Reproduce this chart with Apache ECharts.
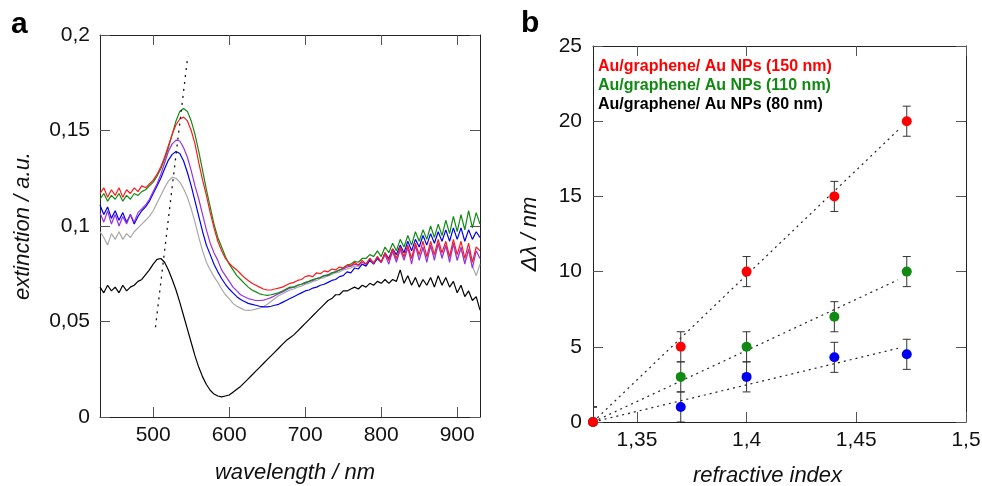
<!DOCTYPE html>
<html>
<head>
<meta charset="utf-8">
<script src="https://cdn.jsdelivr.net/npm/echarts@6/dist/echarts.min.js"></script>
<style>html,body{margin:0;padding:0;background:#fff}#c{width:982px;height:486px}</style>
</head>
<body>
<div id="c"></div>
<script>
// ---------- Panel a: extinction spectra ----------
const wavelength = [430,435,440,445,450,455,460,465,470,475,480,485,490,495,500,505,510,515,520,525,530,535,540,545,550,555,560,565,570,575,580,585,590,595,600,605,610,615,620,625,630,635,640,645,650,655,660,665,670,675,680,685,690,695,700,705,710,715,720,725,730,735,740,745,750,755,760,765,770,775,780,785,790,795,800,805,810,815,820,825,830,835,840,845,850,855,860,865,870,875,880,885,890,895,900,905,910,915,920,925,930];

const extRed = [0.117,0.120,0.115,0.119,0.116,0.120,0.115,0.119,0.117,0.120,
0.118,0.121,0.120,0.122,0.124,0.127,0.131,0.136,0.142,0.148,
0.153,0.156,0.157,0.155,0.150,0.143,0.133,0.124,0.116,0.107,
0.099,0.092,0.087,0.083,0.0805,0.0785,0.077,0.075,0.073,0.0715,
0.070,0.069,0.068,0.067,0.0665,0.0665,0.067,0.0675,0.068,0.069,
0.070,0.0705,0.0715,0.072,0.0735,0.074,0.0735,0.0755,0.075,0.0765,
0.076,0.0775,0.077,0.0785,0.078,0.0795,0.079,0.081,0.0795,0.082,
0.080,0.083,0.0805,0.084,0.081,0.086,0.082,0.088,0.083,0.089,
0.084,0.090,0.083,0.091,0.085,0.092,0.084,0.092,0.085,0.093,
0.086,0.092,0.084,0.093,0.085,0.092,0.083,0.091,0.081,0.089,
0.087];

const extGreen = [0.114,0.117,0.113,0.116,0.114,0.117,0.113,0.116,0.114,0.117,
0.116,0.118,0.119,0.121,0.123,0.126,0.130,0.135,0.141,0.148,
0.155,0.160,0.1615,0.160,0.155,0.148,0.139,0.129,0.119,0.110,
0.101,0.094,0.089,0.084,0.080,0.077,0.074,0.072,0.070,0.068,
0.0665,0.0655,0.0645,0.064,0.0637,0.064,0.0645,0.065,0.066,0.067,
0.068,0.068,0.069,0.0695,0.0705,0.071,0.072,0.0725,0.073,0.074,
0.074,0.0755,0.076,0.077,0.078,0.0795,0.080,0.0815,0.081,0.083,
0.083,0.085,0.084,0.087,0.084,0.089,0.086,0.091,0.087,0.093,
0.089,0.095,0.090,0.097,0.092,0.098,0.093,0.100,0.094,0.101,
0.095,0.103,0.096,0.105,0.097,0.106,0.098,0.108,0.099,0.107,
0.101];

const extPurple = [0.107,0.102,0.108,0.101,0.106,0.100,0.105,0.101,0.106,0.102,
0.107,0.109,0.111,0.114,0.118,0.122,0.127,0.133,0.139,0.143,
0.145,0.1445,0.141,0.136,0.129,0.121,0.114,0.106,0.098,0.091,
0.086,0.082,0.077,0.074,0.071,0.068,0.066,0.064,0.063,0.062,
0.0615,0.061,0.061,0.0612,0.0618,0.0625,0.0635,0.0645,0.0655,0.0665,
0.0675,0.068,0.069,0.0695,0.070,0.071,0.0715,0.0725,0.073,0.074,
0.0745,0.0755,0.076,0.077,0.0775,0.0785,0.079,0.080,0.0795,0.081,
0.080,0.083,0.0805,0.084,0.081,0.085,0.080,0.087,0.081,0.088,
0.082,0.089,0.080,0.090,0.082,0.089,0.081,0.090,0.082,0.091,
0.083,0.090,0.081,0.091,0.082,0.089,0.080,0.088,0.078,0.087,
0.083];

const extBlue = [0.111,0.106,0.110,0.104,0.108,0.103,0.107,0.102,0.106,0.101,
0.105,0.108,0.110,0.113,0.117,0.121,0.125,0.130,0.1345,0.1375,
0.139,0.138,0.134,0.128,0.121,0.113,0.105,0.097,0.090,0.085,
0.080,0.076,0.0725,0.0695,0.067,0.065,0.063,0.0615,0.0605,0.0595,
0.059,0.0585,0.058,0.0577,0.0577,0.058,0.0585,0.059,0.060,0.061,
0.062,0.063,0.064,0.065,0.066,0.0665,0.0675,0.068,0.069,0.0695,
0.0705,0.0715,0.072,0.0735,0.074,0.076,0.0755,0.078,0.0775,0.080,
0.079,0.082,0.080,0.083,0.081,0.086,0.083,0.088,0.085,0.090,
0.086,0.092,0.087,0.093,0.089,0.095,0.090,0.096,0.091,0.097,
0.092,0.098,0.092,0.099,0.093,0.099,0.092,0.098,0.093,0.097,
0.094];

const extGray = [0.097,0.094,0.090,0.096,0.093,0.097,0.093,0.096,0.094,0.097,
0.099,0.101,0.103,0.105,0.108,0.112,0.116,0.120,0.1235,0.1255,
0.125,0.123,0.1195,0.115,0.109,0.102,0.094,0.087,0.081,0.077,
0.0735,0.0705,0.067,0.064,0.062,0.0595,0.058,0.057,0.056,0.0558,
0.056,0.0565,0.057,0.0577,0.059,0.0605,0.062,0.0635,0.0645,0.0655,
0.0665,0.067,0.068,0.0685,0.0695,0.070,0.071,0.0715,0.0725,0.073,
0.074,0.0745,0.0755,0.076,0.077,0.0775,0.078,0.079,0.079,0.080,
0.080,0.082,0.081,0.083,0.081,0.085,0.082,0.086,0.082,0.087,
0.083,0.088,0.083,0.089,0.084,0.088,0.083,0.089,0.084,0.090,
0.084,0.089,0.083,0.090,0.082,0.088,0.081,0.087,0.079,0.074,
0.080];

const extBlack = [0.068,0.065,0.069,0.066,0.068,0.065,0.069,0.066,0.068,0.069,
0.071,0.072,0.0745,0.077,0.080,0.0825,0.083,0.081,0.077,0.072,
0.0665,0.060,0.053,0.046,0.039,0.032,0.026,0.021,0.017,0.014,
0.012,0.011,0.0105,0.011,0.0115,0.013,0.0145,0.016,0.018,0.020,
0.022,0.024,0.026,0.028,0.030,0.032,0.034,0.036,0.038,0.040,
0.0415,0.043,0.045,0.047,0.049,0.051,0.053,0.055,0.057,0.059,
0.061,0.062,0.064,0.064,0.066,0.066,0.067,0.068,0.067,0.069,
0.068,0.070,0.069,0.071,0.070,0.072,0.070,0.072,0.071,0.077,
0.070,0.074,0.069,0.073,0.068,0.072,0.069,0.073,0.068,0.074,
0.069,0.073,0.068,0.071,0.065,0.069,0.063,0.066,0.061,0.063,
0.056];

// dotted guide through the peak maxima
const guideX = [503, 545.5];
const guideY = [0.047, 0.189];

const aTicksX = [500, 600, 700, 800, 900];
const aTicksY = [0, 0.05, 0.1, 0.15, 0.2];

// ---------- Panel b: shift vs refractive index ----------
const refIndex = [1.33, 1.37, 1.40, 1.44, 1.473];
const shift150 = [0, 5, 10, 15, 20];
const err150 = [1, 1, 1, 1, 1];
const shift110 = [0, 3, 5, 7, 10];
const err110 = [1, 1, 1, 1, 1];
const shift80 = [0, 1, 3, 4.3, 4.5];
const err80 = [1, 1, 1, 1, 1];

const fitX = [1.33, 1.469];
const fit150 = [0, 19.4];
const fit110 = [0, 9.45];
const fit80 = [0, 4.9];

const bTicksX = [1.35, 1.4, 1.45, 1.5];
const bTicksY = [0, 5, 10, 15, 20, 25];

const labels = ['Au/graphene/ Au NPs (150 nm)', 'Au/graphene/ Au NPs (110 nm)', 'Au/graphene/ Au NPs (80 nm)'];

// ---------- build ----------
const FF = '"Liberation Sans", Arial, Helvetica, sans-serif';
const comma = v => String(+v.toFixed(4)).replace('.', ',');
const pts = arr => wavelength.map((w, i) => [w, arr[i]]);
const pair = (xs, ys) => xs.map((x, i) => [x, ys[i]]);
const withErr = (ys, es) => refIndex.map((x, i) => [x, ys[i], es[i]]);

const tickStyle = {inside: true, length: 10, lineStyle: {color: '#555', width: 1}};
const lineAx = {show: true, onZero: false, lineStyle: {color: '#222', width: 1}};
const lblStyle = {fontSize: 21, color: '#111', fontFamily: FF};
const nameStyle = {fontSize: 22, fontStyle: 'italic', color: '#111', fontFamily: FF};

function specLine(name, arr, color) {
  return {name, type: 'line', xAxisIndex: 0, yAxisIndex: 0, data: pts(arr),
    showSymbol: false, symbol: 'none', lineStyle: {color, width: 1.2}, itemStyle: {color}, silent: true};
}

function errBars(name, ys, es) {
  return {name, type: 'custom', xAxisIndex: 2, yAxisIndex: 2, data: withErr(ys, es), clip: true, z: 3,
    renderItem: (params, api) => {
      const x = api.value(0), y = api.value(1), e = api.value(2);
      const t = api.coord([x, y + e]), b = api.coord([x, y - e]);
      const hw = 4, st = {stroke: '#333', lineWidth: 1};
      return {type: 'group', children: [
        {type: 'line', shape: {x1: t[0], y1: t[1], x2: b[0], y2: b[1]}, style: st},
        {type: 'line', shape: {x1: t[0] - hw, y1: t[1], x2: t[0] + hw, y2: t[1]}, style: st},
        {type: 'line', shape: {x1: b[0] - hw, y1: b[1], x2: b[0] + hw, y2: b[1]}, style: st}
      ]};
    }};
}
function fitLine(xs, ys) {
  return {type: 'line', xAxisIndex: 2, yAxisIndex: 2, data: pair(xs, ys), showSymbol: false, symbol: 'none',
    lineStyle: {color: '#222', width: 1.2, type: [2, 4]}, z: 2, silent: true};
}
function dots(name, ys, color) {
  return {name, type: 'scatter', xAxisIndex: 2, yAxisIndex: 2, data: pair(refIndex, ys), symbol: 'circle',
    symbolSize: 10, itemStyle: {color, opacity: 1}, clip: false, z: 5};
}

const option = {
  animation: false,
  backgroundColor: '#fff',
  grid: [
    {left: 100, top: 35, width: 380, height: 382, containLabel: false, outerBoundsMode: 'none'},
    {left: 593, top: 46, width: 373, height: 376, containLabel: false, outerBoundsMode: 'none'}
  ],
  xAxis: [
    {gridIndex: 0, type: 'value', min: 430, max: 930, position: 'bottom', axisLine: lineAx,
      axisTick: Object.assign({customValues: aTicksX}, tickStyle),
      axisLabel: Object.assign({customValues: aTicksX, margin: 8}, lblStyle), splitLine: {show: false},
      name: 'wavelength / nm', nameLocation: 'middle', nameGap: 45,
      nameTextStyle: Object.assign({padding: [0, 0, 0, 10]}, nameStyle)},
    {gridIndex: 0, type: 'value', min: 430, max: 930, position: 'top', axisLine: lineAx,
      axisTick: Object.assign({customValues: aTicksX}, tickStyle), axisLabel: {show: false}, splitLine: {show: false}},
    {gridIndex: 1, type: 'value', min: 1.33, max: 1.5, position: 'bottom', axisLine: lineAx,
      axisTick: Object.assign({customValues: bTicksX}, tickStyle),
      axisLabel: Object.assign({customValues: bTicksX, margin: 8, formatter: comma}, lblStyle), splitLine: {show: false},
      name: 'refractive index', nameLocation: 'middle', nameGap: 43,
      nameTextStyle: Object.assign({padding: [0, 24, 0, 0]}, nameStyle)},
    {gridIndex: 1, type: 'value', min: 1.33, max: 1.5, position: 'top', axisLine: lineAx,
      axisTick: Object.assign({customValues: bTicksX}, tickStyle), axisLabel: {show: false}, splitLine: {show: false}}
  ],
  yAxis: [
    {gridIndex: 0, type: 'value', min: 0, max: 0.2, position: 'left', axisLine: lineAx,
      axisTick: Object.assign({customValues: aTicksY}, tickStyle),
      axisLabel: Object.assign({customValues: aTicksY, margin: 10, formatter: comma}, lblStyle), splitLine: {show: false},
      name: 'extinction / a.u.', nameLocation: 'middle', nameGap: 66, nameTextStyle: nameStyle},
    {gridIndex: 0, type: 'value', min: 0, max: 0.2, position: 'right', axisLine: lineAx,
      axisTick: Object.assign({customValues: aTicksY}, tickStyle), axisLabel: {show: false}, splitLine: {show: false}},
    {gridIndex: 1, type: 'value', min: 0, max: 25, position: 'left', axisLine: lineAx,
      axisTick: Object.assign({customValues: bTicksY}, tickStyle),
      axisLabel: Object.assign({customValues: bTicksY, margin: 11}, lblStyle), splitLine: {show: false},
      name: 'Δλ / nm', nameLocation: 'middle', nameGap: 52, nameTextStyle: nameStyle},
    {gridIndex: 1, type: 'value', min: 0, max: 25, position: 'right', axisLine: lineAx,
      axisTick: Object.assign({customValues: bTicksY}, tickStyle), axisLabel: {show: false}, splitLine: {show: false}}
  ],
  graphic: [
    {type: 'text', left: 11, top: 10, style: {text: 'a', font: 'bold 30px ' + FF, fill: '#000'}},
    {type: 'text', left: 521, top: 9, style: {text: 'b', font: 'bold 30px ' + FF, fill: '#000'}},
    {type: 'text', left: 598, top: 59, style: {text: labels[0], font: 'bold 16px ' + FF, fill: '#ff0000'}},
    {type: 'text', left: 598, top: 78, style: {text: labels[1], font: 'bold 16px ' + FF, fill: '#108a10'}},
    {type: 'text', left: 598, top: 97, style: {text: labels[2], font: 'bold 16px ' + FF, fill: '#000'}}
  ],
  series: [
    specLine('black', extBlack, '#000000'),
    specLine('gray', extGray, '#a8a8a8'),
    specLine('blue', extBlue, '#0000ee'),
    specLine('purple', extPurple, '#9a30e6'),
    specLine('green', extGreen, '#118a11'),
    specLine('red', extRed, '#ff1a1a'),
    {type: 'line', xAxisIndex: 0, yAxisIndex: 0, data: pair(guideX, guideY), showSymbol: false, symbol: 'none',
      lineStyle: {color: '#111', width: 1.3, type: [2, 5]}, silent: true, z: 4},
    fitLine(fitX, fit150), fitLine(fitX, fit110), fitLine(fitX, fit80),
    errBars(labels[2], shift80, err80), errBars(labels[1], shift110, err110), errBars(labels[0], shift150, err150),
    dots(labels[2], shift80, '#0000ee'),
    dots(labels[1], shift110, '#118a11'),
    dots(labels[0], shift150, '#ff0000')
  ]
};

const chart = echarts.init(document.getElementById('c'), null, {renderer: 'canvas'});
chart.setOption(option);
</script>
</body>
</html>
